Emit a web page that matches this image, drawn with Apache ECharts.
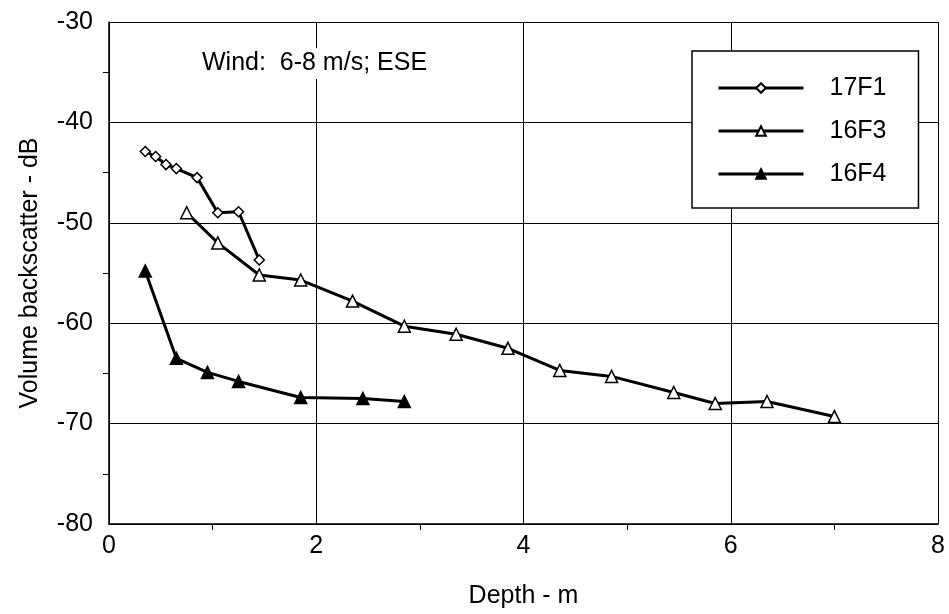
<!DOCTYPE html>
<html>
<head>
<meta charset="utf-8">
<script src="https://cdn.jsdelivr.net/npm/echarts@6/dist/echarts.min.js"></script>
<style>
  html, body { margin: 0; padding: 0; background: #fff; }
  #chart { width: 949px; height: 614px; }
</style>
</head>
<body>
<div id="chart"></div>
<script>
// depth (m), volume backscatter (dB)
const s17F1 = [
  [0.35, -42.9], [0.45, -43.4], [0.55, -44.2], [0.65, -44.6],
  [0.85, -45.5], [1.05, -49.0], [1.25, -48.9], [1.45, -53.7],
];
const s16F3 = [
  [0.75, -49.0], [1.05, -52.0], [1.45, -55.2], [1.85, -55.7],
  [2.35, -57.8], [2.85, -60.3], [3.35, -61.1], [3.85, -62.5],
  [4.35, -64.7], [4.85, -65.3], [5.45, -66.9], [5.85, -68.0],
  [6.35, -67.8], [7.0, -69.3],
];
const s16F4 = [
  [0.35, -54.8], [0.65, -63.5], [0.95, -64.9], [1.25, -65.8],
  [1.85, -67.4], [2.45, -67.5], [2.85, -67.8],
];
const seriesNames = ["17F1", "16F3", "16F4"];
const windNote = "Wind:  6-8 m/s; ESE";

const font = "'Liberation Sans', Arial, Helvetica, sans-serif";
const chart = echarts.init(document.getElementById("chart"));

const lineSeries = (name, data, symbol, size, fill) => ({
  name,
  type: "line",
  data,
  symbol,
  symbolSize: size,
  showAllSymbol: true,
  lineStyle: { color: "#000", width: 3 },
  itemStyle: { color: fill, borderColor: "#000", borderWidth: 1.5 },
  emphasis: { disabled: true },
  z: 3,
});

chart.setOption({
  animation: false,
  backgroundColor: "#fff",
  grid: { left: 109, right: 11, top: 22, bottom: 88 },
  xAxis: {
    type: "value",
    min: 0,
    max: 8,
    interval: 2,
    name: "Depth - m",
    nameLocation: "middle",
    nameGap: 60,
    nameTextStyle: { fontFamily: font, fontSize: 25, color: "#000" },
    axisLine: { lineStyle: { color: "#000", width: 1.5 } },
    axisTick: { show: false },
    minorTick: { show: true, splitNumber: 2, length: 6, lineStyle: { color: "#000", width: 1 } },
    axisLabel: { fontFamily: font, fontSize: 25, color: "#000", margin: 10 },
    splitLine: { show: true, lineStyle: { color: "#000", width: 1 } },
  },
  yAxis: {
    type: "value",
    min: -80,
    max: -30,
    interval: 10,
    name: "Volume backscatter - dB",
    nameLocation: "middle",
    nameGap: 66,
    nameTextStyle: { fontFamily: font, fontSize: 25, color: "#000" },
    axisLine: { show: true, lineStyle: { color: "#000", width: 1.5 } },
    axisTick: { show: false },
    minorTick: { show: true, splitNumber: 2, length: 6, lineStyle: { color: "#000", width: 1 } },
    axisLabel: { fontFamily: font, fontSize: 25, color: "#000", margin: 16 },
    splitLine: { show: true, lineStyle: { color: "#000", width: 1 } },
  },
  legend: {
    data: seriesNames,
    orient: "vertical",
    left: 692,
    top: 51,
    padding: [23, 32, 20, 25],
    itemWidth: 85,
    itemHeight: 12,
    itemGap: 15,
    backgroundColor: "#fff",
    borderColor: "#000",
    borderWidth: 1.5,
    borderRadius: 0,
    selectedMode: false,
    lineStyle: { color: "#000", width: 3 },
    textStyle: { fontFamily: font, fontSize: 25, color: "#000", lineHeight: 28, padding: [0, 0, 0, 21] },
  },
  graphic: [
    {
      type: "text",
      left: 200,
      top: 48,
      z: 10,
      style: {
        text: windNote,
        font: "25px " + font,
        fill: "#000",
        backgroundColor: "#fff",
        padding: [3, 2, 3, 2],
      },
    },
  ],
  series: [
    lineSeries(seriesNames[0], s17F1, "diamond", 10, "#fff"),
    lineSeries(seriesNames[1], s16F3, "triangle", 12, "#fff"),
    lineSeries(seriesNames[2], s16F4, "triangle", 12, "#000"),
  ],
});
</script>
</body>
</html>
